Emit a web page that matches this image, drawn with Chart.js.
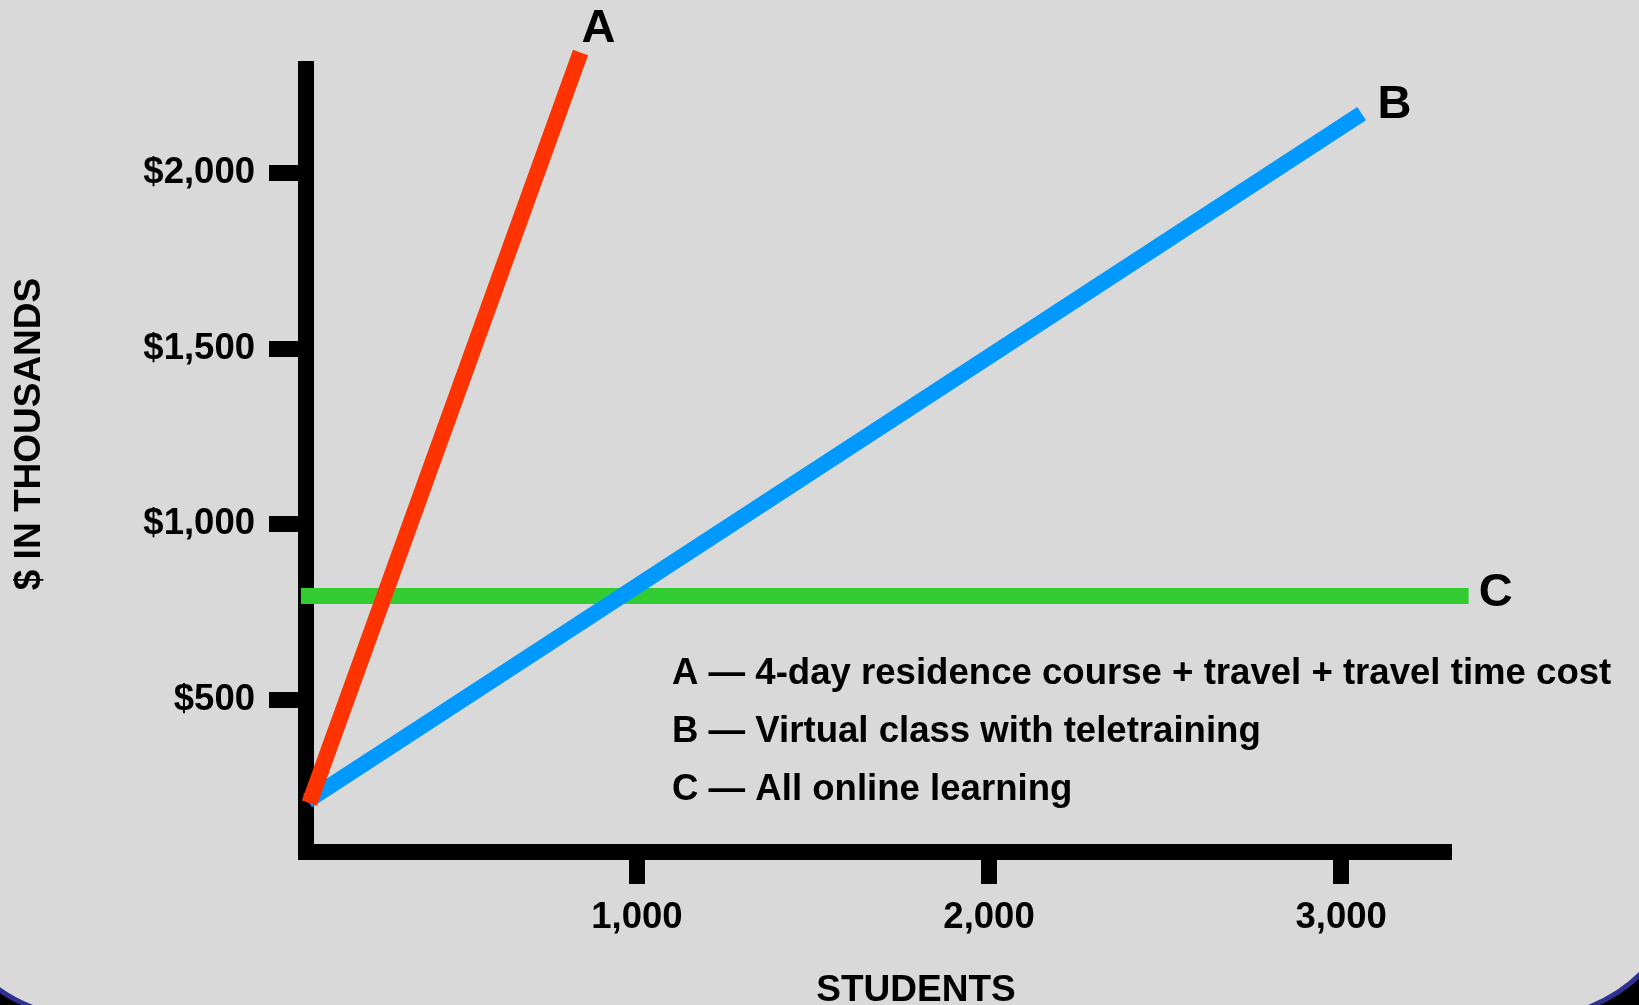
<!DOCTYPE html>
<html>
<head>
<meta charset="utf-8">
<script src="https://cdn.jsdelivr.net/npm/chart.js@4.4.1/dist/chart.umd.min.js"></script>
<style>
  html, body { margin: 0; padding: 0; background: #000; overflow: hidden; }
  #frame {
    position: absolute; left: -68px; top: -200px; width: 1757px; height: 1220px;
    box-sizing: border-box; border: 5px solid #2e3192; border-radius: 155px; background: #d9d9d9;
  }
  #wrap { position: absolute; left: 0; top: 0; width: 1639px; height: 1005px; }
</style>
</head>
<body>
<div id="frame"></div>
<div id="wrap"><canvas id="costChart"></canvas></div>
<script>
const FONT = "'Liberation Sans', Arial, Helvetica, sans-serif";

// tick labels
const xTicks = [1000, 2000, 3000];
const yTicks = [500, 1000, 1500, 2000];

// series (students, $ thousands)
const seriesNames = ["A", "B", "C"];
const seriesA = [{ x: 70, y: 207 }, { x: 840, y: 2342 }];
const seriesB = [{ x: 65, y: 214 }, { x: 3058, y: 2168 }];
const seriesC = [{ x: 46, y: 796 }, { x: 3362, y: 796 }];
const seriesColors = ["#ff3300", "#0099ff", "#33cc33"];

const keyLines = [
  "A \u2014 4-day residence course + travel + travel time cost",
  "B \u2014 Virtual class with teletraining",
  "C \u2014 All online learning",
];

// Draws the series letters, the key and both axis titles
const annotations = {
  id: "annotations",
  afterDatasetsDraw(chart, args, opts) {
    const ctx = chart.ctx;
    ctx.save();
    ctx.fillStyle = "#000";
    ctx.textBaseline = "alphabetic";
    ctx.textAlign = "left";

    ctx.font = `bold 47px ${FONT}`;
    chart.data.datasets.forEach((ds, i) => {
      const pts = chart.getDatasetMeta(i).data;
      const end = pts[pts.length - 1];
      const off = opts.nameOffsets[i];
      ctx.fillText(seriesNames[i], end.x + off[0], end.y + off[1]);
    });

    ctx.font = `bold 36.6px ${FONT}`;
    keyLines.forEach((line, i) => {
      ctx.fillText(line, opts.keyX, opts.keyY + i * opts.keyGap);
    });

    ctx.font = `bold 37px ${FONT}`;
    ctx.textAlign = "center";
    ctx.fillText("STUDENTS", 916, 1001);

    ctx.translate(40, 434);
    ctx.rotate(-Math.PI / 2);
    ctx.fillText("$ IN THOUSANDS", 0, 0);
    ctx.restore();
  },
};

const axisStyle = (tickLength) => ({
  border: { color: "#000", width: 16 },
  grid: {
    display: true,
    drawOnChartArea: false,
    drawTicks: true,
    tickLength: tickLength,
    tickWidth: 16,
    tickColor: "#000",
    lineWidth: 16,
    color: "#000",
  },
});

const makeDataset = (label, data, color) => ({
  label: label,
  data: data,
  borderColor: color,
  backgroundColor: color,
  borderWidth: 16,
  borderCapStyle: "butt",
  pointRadius: 0,
  tension: 0,
  clip: false,
});

new Chart(document.getElementById("costChart"), {
  type: "line",
  data: {
    datasets: [
      makeDataset("A", seriesA, seriesColors[0]),
      makeDataset("B", seriesB, seriesColors[1]),
      makeDataset("C", seriesC, seriesColors[2]),
    ],
  },
  plugins: [annotations],
  options: {
    responsive: true,
    maintainAspectRatio: false,
    animation: false,
    layout: { padding: { top: 69, right: 195, left: 0, bottom: 0 } },
    plugins: {
      legend: { display: false },
      tooltip: { enabled: false },
      annotations: {
        nameOffsets: [[1, -10], [16, 4], [10, 10]],
        keyX: 672,
        keyY: 684,
        keyGap: 58,
      },
    },
    scales: {
      x: {
        type: "linear",
        min: 60.4,
        max: 3292,
        afterFit: (s) => { s.height = 153; },
        afterBuildTicks: (s) => { s.ticks = xTicks.map((v) => ({ value: v })); },
        ...axisStyle(32),
        ticks: {
          padding: 12,
          color: "#000",
          font: { family: FONT, size: 36.5, weight: "bold" },
          callback: (v) => v.toLocaleString("en-US"),
        },
      },
      y: {
        type: "linear",
        min: 68,
        max: 2295,
        afterFit: (s) => { s.width = 306; },
        afterBuildTicks: (s) => { s.ticks = yTicks.map((v) => ({ value: v })); },
        ...axisStyle(37),
        ticks: {
          padding: 14,
          color: "#000",
          font: { family: FONT, size: 36.5, weight: "bold" },
          callback: (v) => "$" + v.toLocaleString("en-US"),
        },
      },
    },
  },
});
</script>
</body>
</html>
